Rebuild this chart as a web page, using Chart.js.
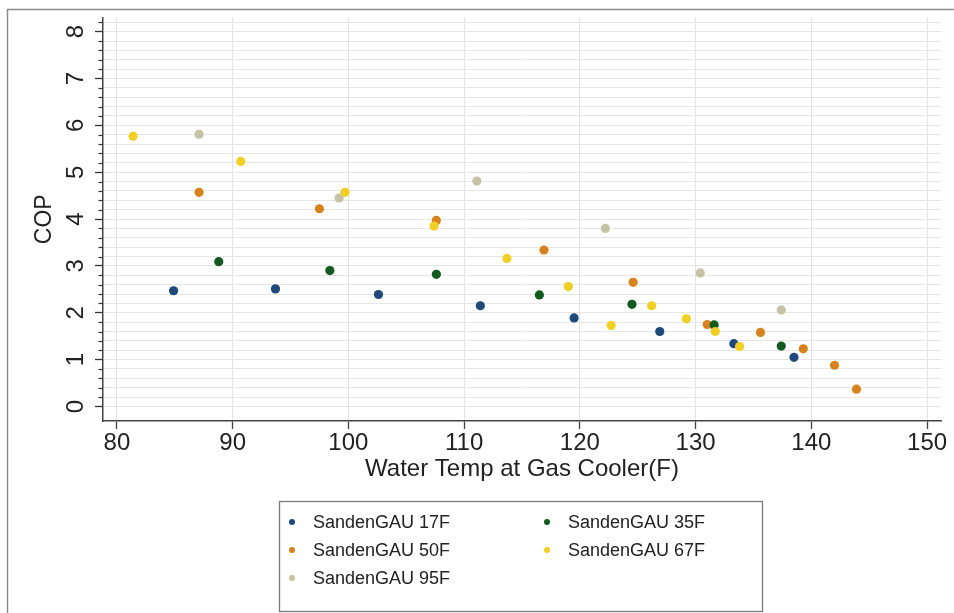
<!DOCTYPE html>
<html>
<head>
<meta charset="utf-8">
<script src="https://cdn.jsdelivr.net/npm/chart.js@4/dist/chart.umd.min.js"></script>
<style>
  html, body { margin: 0; padding: 0; background: #ffffff; }
  #wrap { width: 954px; height: 613px; position: relative; }
</style>
</head>
<body>
<div id="wrap"><canvas id="c" width="954" height="613"></canvas></div>
<script>
// ---- Data ----
const seriesLabels = ['SandenGAU 17F', 'SandenGAU 35F', 'SandenGAU 50F', 'SandenGAU 67F', 'SandenGAU 95F'];

const temps17 = [84.9, 93.7, 102.6, 111.4, 119.5, 126.9, 133.3, 138.5];
const cop17   = [2.47, 2.51, 2.39, 2.15, 1.89, 1.60, 1.34, 1.05];

const temps35 = [88.8, 98.4, 107.6, 116.5, 124.5, 131.6, 137.4];
const cop35   = [3.09, 2.90, 2.82, 2.38, 2.18, 1.74, 1.29];

const temps50 = [87.1, 97.5, 107.6, 116.9, 124.6, 131.0, 135.6, 139.3, 142.0, 143.9];
const cop50   = [4.57, 4.22, 3.97, 3.34, 2.65, 1.75, 1.58, 1.23, 0.88, 0.37];

const temps67 = [81.4, 90.7, 99.7, 107.4, 113.7, 119.0, 122.7, 126.2, 129.2, 131.7, 133.8];
const cop67   = [5.77, 5.23, 4.57, 3.85, 3.16, 2.56, 1.73, 2.15, 1.87, 1.60, 1.28];

const temps95 = [87.1, 99.2, 111.1, 122.2, 130.4, 137.4];
const cop95   = [5.81, 4.45, 4.81, 3.80, 2.85, 2.06];

const xTitle = 'Water Temp at Gas Cooler(F)';
const yTitle = 'COP';

// ---- Styles ----
const colors = ['#1d4a7a', '#135a20', '#d8821e', '#f2cf24', '#c6c2a6'];
const drawOrder = [3, 2, 4, 1, 5];
const FONT = "'Liberation Sans', Arial, Helvetica, sans-serif";

function pts(xs, ys) { return xs.map((x, i) => ({ x: x, y: ys[i] })); }
const allX = [temps17, temps35, temps50, temps67, temps95];
const allY = [cop17, cop35, cop50, cop67, cop95];

const datasets = seriesLabels.map((lab, i) => ({
  label: lab,
  data: pts(allX[i], allY[i]),
  backgroundColor: colors[i],
  borderColor: colors[i],
  borderWidth: 0,
  pointRadius: 4.6,
  pointHoverRadius: 4.6,
  order: drawOrder[i]
}));

function isMajor(v) { return Math.abs(v - Math.round(v)) < 1e-6 && v >= -1e-6 && v <= 8 + 1e-6; }

const decorPlugin = {
  id: 'decor',
  beforeDraw(chart) {
    const ctx = chart.ctx;
    ctx.save();
    ctx.fillStyle = '#ffffff';
    ctx.fillRect(0, 0, chart.width, chart.height);
    ctx.strokeStyle = '#8c8c8c';
    ctx.lineWidth = 1.5;
    ctx.strokeRect(7.5, 9.5, chart.width + 20, chart.height + 20);
    ctx.restore();
  },
  afterDraw(chart) {
    const ctx = chart.ctx;
    const ys = chart.scales.y;
    ctx.save();
    // minor ticks on the y axis
    ctx.strokeStyle = '#333333';
    ctx.lineWidth = 1.2;
    ys.ticks.forEach(t => {
      if (t.value > 0 && t.value < 8.25 && !isMajor(t.value)) {
        const py = Math.round(ys.getPixelForValue(t.value)) + 0.5;
        ctx.beginPath();
        ctx.moveTo(ys.right - 4.5, py);
        ctx.lineTo(ys.right, py);
        ctx.stroke();
      }
    });
    // legend box
    ctx.strokeStyle = '#7a7a7a';
    ctx.lineWidth = 1.3;
    ctx.strokeRect(279.5, 501.5, 483, 110);
    const colX = [292, 547];
    const rowY = [522, 550, 578];
    ctx.font = '18px ' + FONT;
    ctx.textBaseline = 'middle';
    ctx.textAlign = 'left';
    chart.data.datasets.forEach((ds, i) => {
      const cx = colX[i % 2];
      const cy = rowY[Math.floor(i / 2)];
      ctx.fillStyle = ds.backgroundColor;
      ctx.beginPath();
      ctx.arc(cx, cy, 3, 0, Math.PI * 2);
      ctx.fill();
      ctx.fillStyle = '#222222';
      ctx.fillText(ds.label, cx + 21, cy + 1);
    });
    ctx.restore();
  }
};

new Chart(document.getElementById('c'), {
  type: 'scatter',
  data: { datasets: datasets },
  plugins: [decorPlugin],
  options: {
    responsive: false,
    animation: false,
    events: [],
    layout: { padding: { left: 0, top: 17.6, right: 13, bottom: 0 } },
    plugins: { legend: { display: false }, tooltip: { enabled: false }, title: { display: false } },
    scales: {
      x: {
        type: 'linear',
        position: 'bottom',
        min: 78.8,
        max: 151.2,
        afterFit(scale) { scale.height = 192; scale.paddingLeft = 0; scale.paddingRight = 0; },
        border: { display: true, color: '#444444', width: 1.5 },
        grid: { color: '#e3e3e3', lineWidth: 1, tickColor: '#444444', tickLength: 8, tickWidth: 1.3 },
        ticks: {
          stepSize: 10,
          includeBounds: false,
          autoSkip: false,
          maxRotation: 0,
          minRotation: 0,
          padding: 0,
          color: '#222222',
          font: { family: FONT, size: 24 },
          callback: (v) => String(v)
        },
        title: {
          display: true,
          text: xTitle,
          color: '#222222',
          font: { family: FONT, size: 24 },
          padding: { top: 0, bottom: 129.6 }
        }
      },
      y: {
        type: 'linear',
        position: 'left',
        min: -0.31,
        max: 8.3,
        afterFit(scale) { scale.width = 103; scale.paddingTop = 0; scale.paddingBottom = 0; },
        border: { display: true, color: '#444444', width: 1.5 },
        grid: {
          lineWidth: 1,
          tickLength: 8,
          tickWidth: 1.3,
          color: (c) => (c.tick && c.tick.value > -1e-6 && c.tick.value < 8.25) ? '#e6e6e6' : 'rgba(0,0,0,0)',
          tickColor: (c) => (c.tick && isMajor(c.tick.value)) ? '#333333' : 'rgba(0,0,0,0)'
        },
        ticks: {
          stepSize: 0.2,
          includeBounds: false,
          autoSkip: false,
          minRotation: 90,
          maxRotation: 90,
          align: 'end',
          crossAlign: 'center',
          padding: 0,
          color: '#222222',
          font: { family: FONT, size: 24 },
          callback: (v) => isMajor(v) ? String(Math.round(v)) : ''
        },
        title: {
          display: true,
          text: yTitle,
          color: '#222222',
          font: { family: FONT, size: 23 },
          padding: { top: 31, bottom: 0 }
        }
      }
    }
  }
});
</script>
</body>
</html>
